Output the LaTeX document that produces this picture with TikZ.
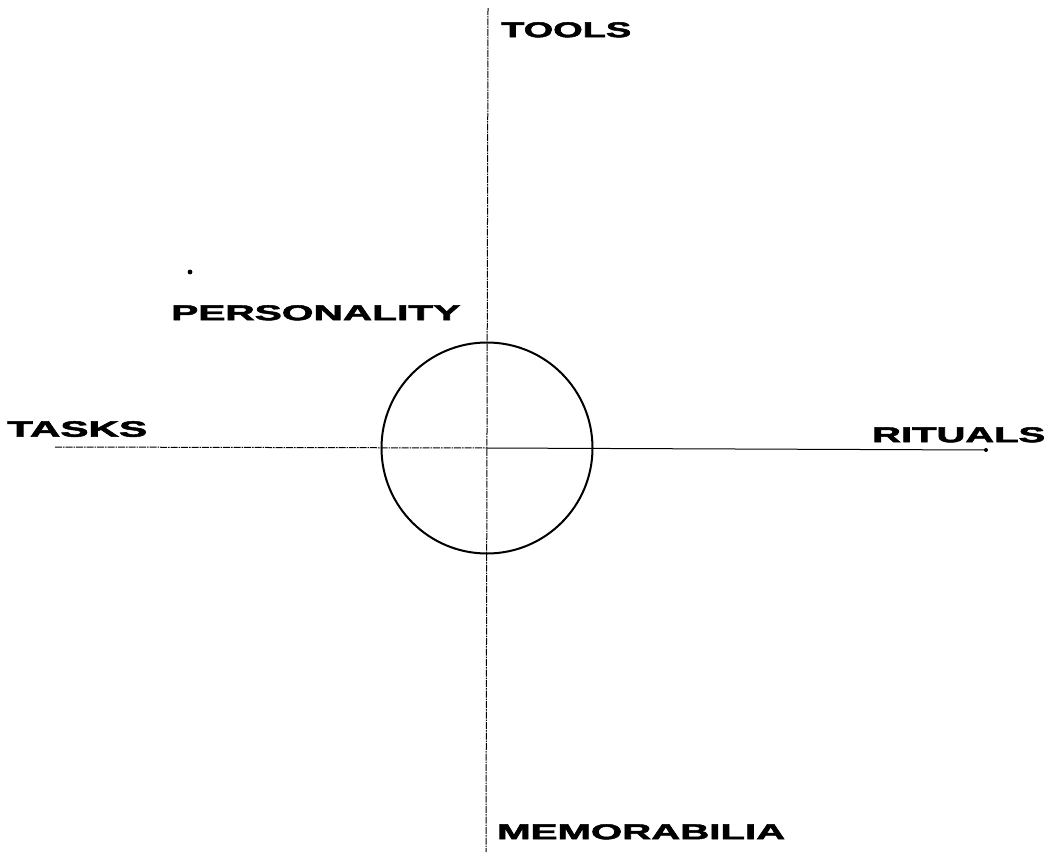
\documentclass[tikz,border=0pt]{standalone}
\usepackage{fontspec}
\setmainfont{Liberation Sans}[BoldFeatures={FakeBold=2}]
\usepackage{graphicx}
\newcommand{\axislabel}[3]{\resizebox{#1pt}{#2pt}{\bfseries #3}}
\begin{document}
\begin{tikzpicture}[x=1pt, y=-1pt,
                    axis/.style={line width=1pt, dash pattern=on 7pt off 1pt on 1.5pt off 1pt},
                    label/.style={inner sep=0pt, anchor=north west}]
\useasboundingbox (0,0) rectangle (1046,859);
\coordinate (c) at (487,448);
\coordinate (top) at (488,8);
\coordinate (bottom) at (486,852);
\coordinate (left) at (55,447);
\coordinate (right) at (986,450);
\draw[axis] (top) -- (bottom);
\draw[axis] (left) -- (c);
\draw[line width=1pt] (c) -- (right);
\fill (right) circle (2pt);
\node[circle, draw, line width=2pt, minimum size=211pt, inner sep=0pt] (core) at (c) {};
\node[label] (tools) at (501,22) {\axislabel{130}{15}{TOOLS}};
\node[label] (personality) at (171,305) {\axislabel{289}{15}{PERSONALITY}};
\node[label] (tasks) at (7,421) {\axislabel{140}{15.5}{TASKS}};
\node[label] (rituals) at (872,427) {\axislabel{173}{15}{RITUALS}};
\node[label] (memorabilia) at (497,824) {\axislabel{288}{15}{MEMORABILIA}};
\fill (190,272) circle (2.4pt);
\end{tikzpicture}
\end{document}
